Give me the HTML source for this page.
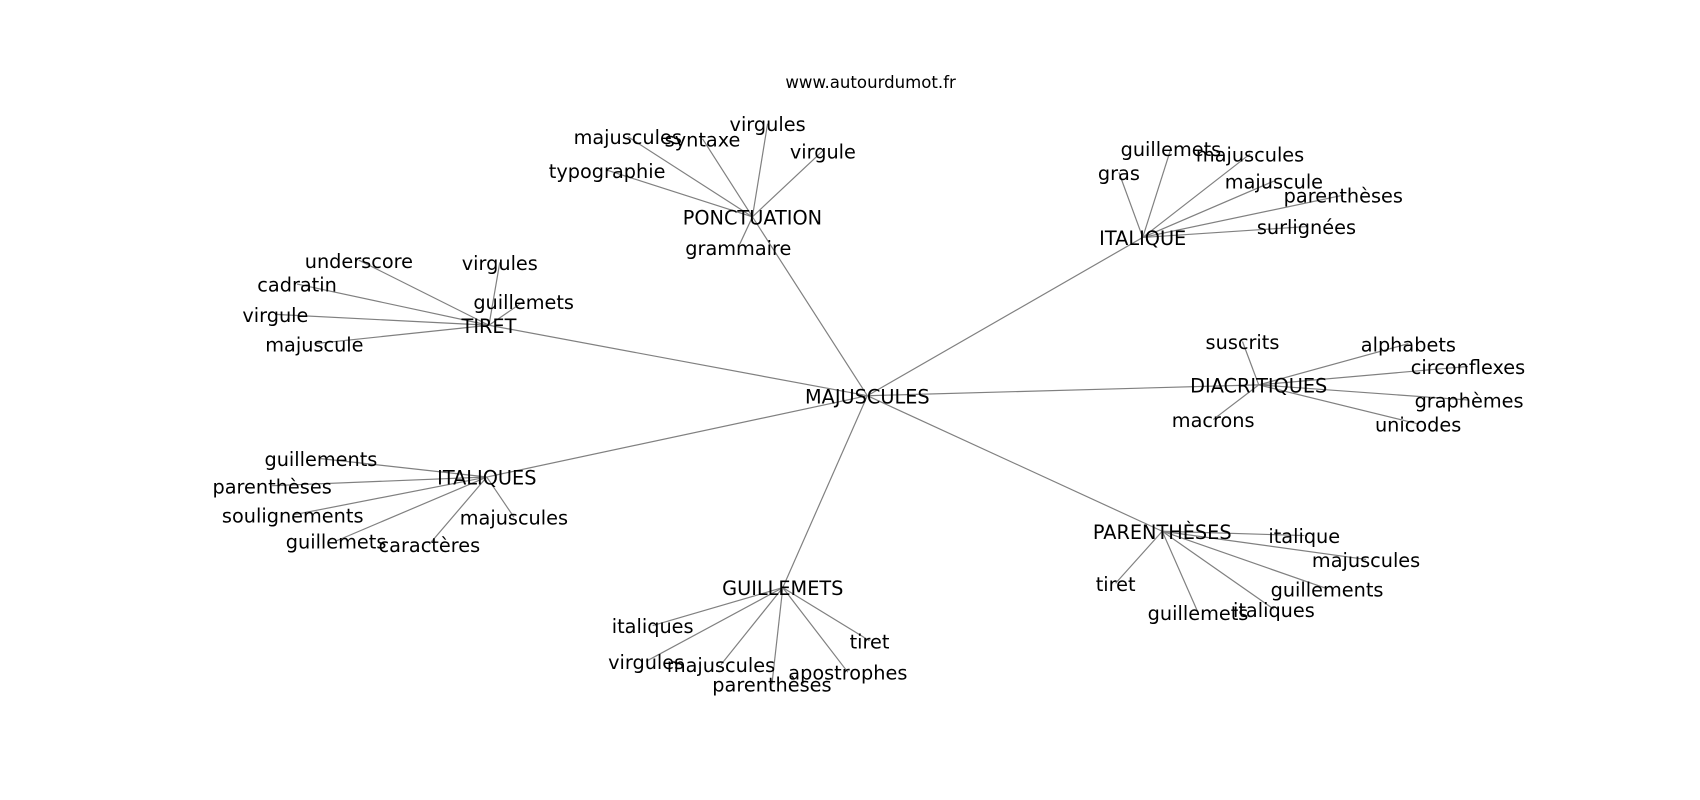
<!DOCTYPE html>
<html><head><meta charset="utf-8"><style>
html,body{margin:0;padding:0;background:#fff;}
svg{display:block}
text{font-family:"DejaVu Sans","Liberation Sans",sans-serif;font-size:17.8px;fill:#000;text-anchor:middle;dominant-baseline:central}
line{stroke:#808080;stroke-width:1.1}
</style></head><body>
<svg width="1700" height="800" viewBox="0 0 1568 737.9" preserveAspectRatio="none" xmlns="http://www.w3.org/2000/svg">
<g>
<line x1="800" y1="365" x2="694" y2="200"/>
<line x1="800" y1="365" x2="1054" y2="219"/>
<line x1="800" y1="365" x2="451" y2="300"/>
<line x1="800" y1="365" x2="1161" y2="355"/>
<line x1="800" y1="365" x2="449" y2="440"/>
<line x1="800" y1="365" x2="722" y2="542"/>
<line x1="800" y1="365" x2="1072" y2="490"/>

<line x1="694" y1="200" x2="579" y2="126"/>
<line x1="694" y1="200" x2="648" y2="128"/>
<line x1="694" y1="200" x2="708" y2="114"/>
<line x1="694" y1="200" x2="759" y2="139"/>
<line x1="694" y1="200" x2="560" y2="157"/>
<line x1="694" y1="200" x2="681" y2="228"/>

<line x1="1054" y1="219" x2="1032" y2="159"/>
<line x1="1054" y1="219" x2="1080" y2="137"/>
<line x1="1054" y1="219" x2="1153" y2="142"/>
<line x1="1054" y1="219" x2="1175" y2="167"/>
<line x1="1054" y1="219" x2="1239" y2="180"/>
<line x1="1054" y1="219" x2="1205" y2="209"/>

<line x1="451" y1="300" x2="331" y2="240"/>
<line x1="451" y1="300" x2="461" y2="242"/>
<line x1="451" y1="300" x2="483" y2="278"/>
<line x1="451" y1="300" x2="274" y2="262"/>
<line x1="451" y1="300" x2="254" y2="290"/>
<line x1="451" y1="300" x2="290" y2="317"/>

<line x1="1161" y1="355" x2="1146" y2="315"/>
<line x1="1161" y1="355" x2="1299" y2="317"/>
<line x1="1161" y1="355" x2="1354" y2="338"/>
<line x1="1161" y1="355" x2="1355" y2="369"/>
<line x1="1161" y1="355" x2="1119" y2="387"/>
<line x1="1161" y1="355" x2="1308" y2="391"/>

<line x1="449" y1="440" x2="296" y2="423"/>
<line x1="449" y1="440" x2="251" y2="448"/>
<line x1="449" y1="440" x2="270" y2="475"/>
<line x1="449" y1="440" x2="474" y2="477"/>
<line x1="449" y1="440" x2="310" y2="499"/>
<line x1="449" y1="440" x2="396" y2="502"/>

<line x1="722" y1="542" x2="602" y2="577"/>
<line x1="722" y1="542" x2="596" y2="610"/>
<line x1="722" y1="542" x2="665" y2="613"/>
<line x1="722" y1="542" x2="712" y2="631"/>
<line x1="722" y1="542" x2="782" y2="620"/>
<line x1="722" y1="542" x2="802" y2="591"/>

<line x1="1072" y1="490" x2="1203" y2="494"/>
<line x1="1072" y1="490" x2="1260" y2="516"/>
<line x1="1072" y1="490" x2="1224" y2="543"/>
<line x1="1072" y1="490" x2="1029" y2="538"/>
<line x1="1072" y1="490" x2="1105" y2="565"/>
<line x1="1072" y1="490" x2="1175" y2="562"/>
</g>
<g transform="translate(0,1)">
<text x="803" y="75" style="font-size:15.3px">www.autourdumot.fr</text>
<text x="800" y="365">MAJUSCULES</text>
<text x="694" y="200">PONCTUATION</text>
<text x="1054" y="219">ITALIQUE</text>
<text x="451" y="300">TIRET</text>
<text x="1161" y="355">DIACRITIQUES</text>
<text x="449" y="440">ITALIQUES</text>
<text x="722" y="542">GUILLEMETS</text>
<text x="1072" y="490">PARENTHÈSES</text>

<text x="579" y="126">majuscules</text>
<text x="648" y="128">syntaxe</text>
<text x="708" y="114">virgules</text>
<text x="759" y="139">virgule</text>
<text x="560" y="157">typographie</text>
<text x="681" y="228">grammaire</text>

<text x="1032" y="159">gras</text>
<text x="1080" y="137">guillemets</text>
<text x="1153" y="142">majuscules</text>
<text x="1175" y="167">majuscule</text>
<text x="1239" y="180">parenthèses</text>
<text x="1205" y="209">surlignées</text>

<text x="331" y="240">underscore</text>
<text x="461" y="242">virgules</text>
<text x="274" y="262">cadratin</text>
<text x="483" y="278">guillemets</text>
<text x="254" y="290">virgule</text>
<text x="290" y="317">majuscule</text>

<text x="1146" y="315">suscrits</text>
<text x="1299" y="317">alphabets</text>
<text x="1354" y="338">circonflexes</text>
<text x="1355" y="369">graphèmes</text>
<text x="1119" y="387">macrons</text>
<text x="1308" y="391">unicodes</text>

<text x="296" y="423">guillements</text>
<text x="251" y="448">parenthèses</text>
<text x="270" y="475">soulignements</text>
<text x="474" y="477">majuscules</text>
<text x="310" y="499">guillemets</text>
<text x="396" y="502">caractères</text>

<text x="602" y="577">italiques</text>
<text x="596" y="610">virgules</text>
<text x="665" y="613">majuscules</text>
<text x="712" y="631">parenthèses</text>
<text x="782" y="620">apostrophes</text>
<text x="802" y="591">tiret</text>

<text x="1203" y="494">italique</text>
<text x="1260" y="516">majuscules</text>
<text x="1224" y="543">guillements</text>
<text x="1029" y="538">tiret</text>
<text x="1105" y="565">guillemets</text>
<text x="1175" y="562">italiques</text>
</g>
</svg>
</body></html>
